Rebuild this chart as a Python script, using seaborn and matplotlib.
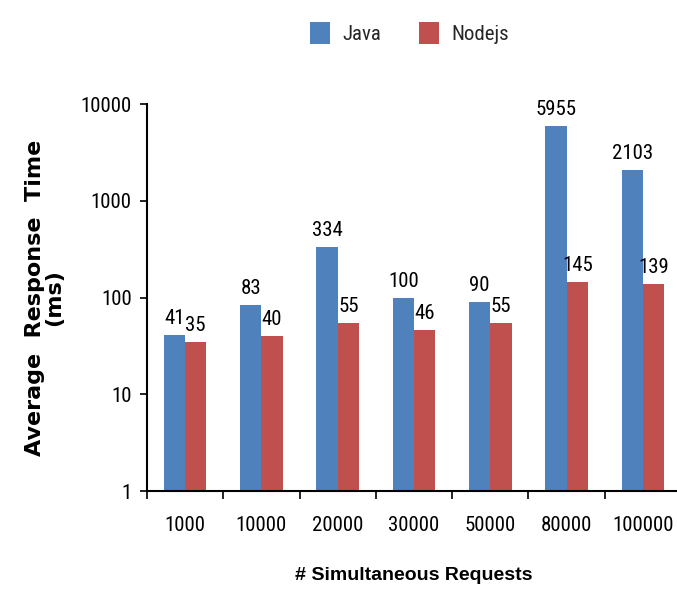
import matplotlib
matplotlib.use("Agg")
import matplotlib.pyplot as plt
import seaborn as sns
import pandas as pd
import numpy as np
from matplotlib.ticker import FixedLocator, NullLocator
from matplotlib import font_manager
from matplotlib.patches import Patch

categories = ["1000", "10000", "20000", "30000", "50000", "80000", "100000"]
java = [41, 83, 334, 100, 90, 5955, 2103]
nodejs = [35, 40, 55, 46, 55, 145, 139]
series = ["Java", "Nodejs"]
colors = ["#4F81BD", "#C0504D"]

df = pd.DataFrame({
    "req": categories * 2,
    "time": java + nodejs,
    "server": [series[0]] * len(categories) + [series[1]] * len(categories),
})

sns.set_style("white")


def pick(cands):
    for c in cands:
        try:
            font_manager.findfont(font_manager.FontProperties(family=c), fallback_to_default=False)
            return c
        except Exception:
            continue
    return "DejaVu Sans"


narrow = pick(["Liberation Sans Narrow", "DejaVu Sans Condensed", "Roboto Condensed", "Liberation Sans"])
plt.rcParams["font.family"] = [narrow, "DejaVu Sans"]
bold_font = [pick(["Liberation Sans", "Roboto"]), "DejaVu Sans"]

fig = plt.figure(figsize=(6.77, 5.91), dpi=100)
ax = fig.add_axes([0.217, 0.169, 0.789, 0.655])

sns.barplot(data=df, x="req", y="time", hue="server", palette=colors,
            saturation=1, width=0.56, ax=ax, legend=False, edgecolor="none")
ax.set_yscale("log")
ax.set_ylim(1, 10000)
ax.set_xlim(-0.5, len(categories) - 0.5)
ax.set_yticks([1, 10, 100, 1000, 10000])
ax.set_yticklabels(["1", "10", "100", "1000", "10000"], fontsize=15)
ax.yaxis.set_minor_locator(NullLocator())
ax.tick_params(axis="y", which="major", direction="out", length=5, width=1.2,
               color="black", left=True, pad=6, labelcolor="black")

ax.set_xticks(range(len(categories)))
ax.set_xticklabels(categories, fontsize=15)
ax.tick_params(axis="x", which="major", length=0, pad=18, labelcolor="black")
ax.xaxis.set_minor_locator(FixedLocator(np.arange(-0.5, len(categories), 1.0)))
ax.tick_params(axis="x", which="minor", direction="out", length=6, width=1.2,
               color="black", bottom=True)

for s in ["top", "right"]:
    ax.spines[s].set_visible(False)
for s in ["left", "bottom"]:
    ax.spines[s].set_color("black")
    ax.spines[s].set_linewidth(1.5)

vals = [java, nodejs]
for cont, v in zip(ax.containers, vals):
    ax.bar_label(cont, labels=[str(x) for x in v], fontsize=15, padding=5, color="black")

ax.set_xlabel("# Simultaneous Requests", fontsize=14, fontweight="bold",
              family=bold_font, labelpad=23, color="black")
ax.set_ylabel("Average  Response  Time\n(ms)", fontsize=16, fontweight="bold",
              family=["DejaVu Sans"], labelpad=12, linespacing=0.95, color="black")

handles = [Patch(facecolor=c, edgecolor="none") for c in colors]
fig.legend(handles, series, loc="upper center", bbox_to_anchor=(0.605, 0.995),
           ncol=2, frameon=False, fontsize=15, handlelength=0.95, handleheight=1.25,
           columnspacing=1.8, handletextpad=0.6)

fig.savefig("out.png", dpi=100)
